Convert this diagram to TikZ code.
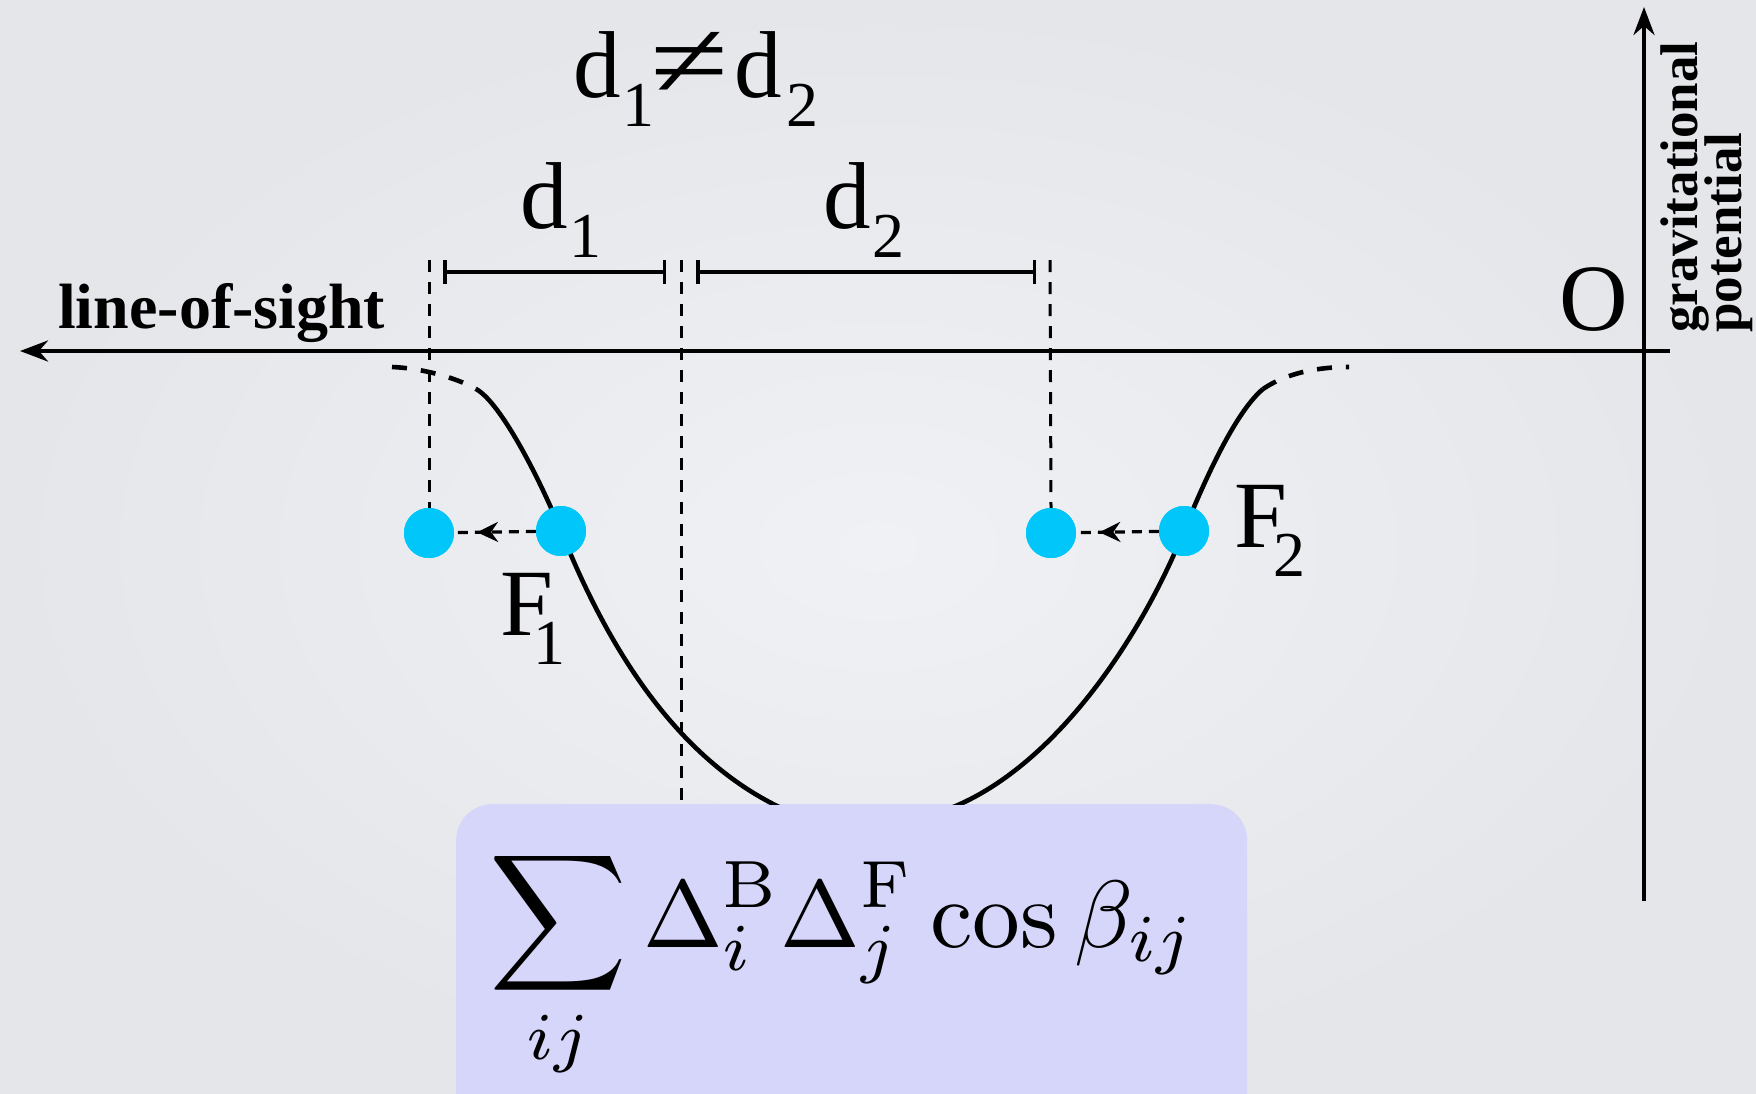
\documentclass[tikz,border=0pt]{standalone}
\usepackage{fontspec}
\newfontfamily\ser{Liberation Serif}
\usetikzlibrary{arrows.meta,decorations.markings}
\definecolor{bg}{RGB}{235,237,241}
\definecolor{bgin}{RGB}{240,241,245}
\definecolor{bgout}{RGB}{228,230,234}
\definecolor{dotc}{RGB}{0,198,250}
\definecolor{boxc}{RGB}{214,213,250}
\newcommand\subs[1]{\raisebox{-29pt}{\fontsize{64}{64}\selectfont #1}}
\begin{document}
\begin{tikzpicture}[x=1pt,y=-1pt,
  axisline/.style={line width=4.2pt,-{Stealth[length=28pt,width=21pt,inset=9pt]}},
  vdash/.style={line width=3pt,dash pattern=on 12pt off 10pt},
  cdash/.style={line width=4.6pt,dash pattern=on 15pt off 14pt},
  curvest/.style={line width=4.6pt},
  dotst/.style={circle,fill=dotc,minimum size=50pt,inner sep=0pt},
  lbl/.style={font=\ser\fontsize{95}{100}\selectfont,inner sep=0pt,anchor=base west},
  barst/.style={line width=3.5pt,{Bar[width=24pt]}-{Bar[width=24pt]}},
  moveArrow/.style={dash pattern=on 10pt off 7pt,line width=3.2pt,
    decoration={markings,mark=at position 0.72 with {\arrow{Stealth[length=21pt,width=20pt,inset=7pt]}}},
    postaction={decorate}}]
\useasboundingbox (0,0) rectangle (1756,1093);
\shade[inner color=bgin,outer color=bgout] (0,0) rectangle (1756,1093);

% axes
\coordinate (hr) at (1670,351);
\coordinate (hl) at (20,351);
\coordinate (vb) at (1644,901);
\coordinate (vt) at (1644,7);
\draw[axisline] (hr) -- (hl);
\draw[axisline] (vb) -- (vt);

% dots
\node[dotst] (a1) at (429,533) {};
\node[dotst] (a2) at (561,531) {};
\node[dotst] (b1) at (1051,533) {};
\node[dotst] (b2) at (1184,531) {};

% formula box
\node[fill=boxc,rounded corners=36pt,minimum width=791pt,minimum height=330pt,anchor=north west,inner sep=0pt] (box) at (456,804) {};

% dashed verticals
\coordinate (t1) at (429,260);
\coordinate (t2) at (681,260);
\coordinate (t3) at (1050,260);
\draw[vdash] (t1) -- (a1.north);
\draw[vdash] (t2) -- (t2 |- box.north);
\draw[vdash] (t3) -- (b1.north);

% distance bars
\coordinate (p1) at (443,272);
\coordinate (p2) at (666,272);
\coordinate (p3) at (696,272);
\coordinate (p4) at (1036,272);
\draw[barst] (p1) -- (p2);
\draw[barst] (p3) -- (p4);

% potential curve
\coordinate (cl) at (476,389);
\coordinate (cr) at (1263,389);
\begin{scope}
\clip (0,0) rectangle (1756,804);
\draw[curvest] (cl) .. controls (500,402) and (538,475) .. (a2.center)
  .. controls (601,631) and (670,760) .. (790,812) -- (940,812)
  .. controls (1050,775) and (1140,640) .. (b2.center)
  .. controls (1210,467) and (1238,410) .. (cr);
\end{scope}
\coordinate (el) at (392,367);
\coordinate (er) at (1349,367);
\draw[cdash] (el) .. controls (420,368) and (455,377) .. (cl);
\draw[cdash] (cr) .. controls (1285,374) and (1315,367) .. (er);

% formula
\node[anchor=base west,inner sep=0pt] (form) at (489,947) {\scalebox{9.55}{$\displaystyle\sum_{ij}\Delta_i^{\mathrm{B}}\Delta_j^{\mathrm{F}}\cos\beta_{ij}$}};

% dots on top
\node[dotst] at (a1) {};
\node[dotst] at (a2) {};
\node[dotst] at (b1) {};
\node[dotst] at (b2) {};
\draw[moveArrow] (a2) -- (a1);
\draw[moveArrow] (b2) -- (b1);

% labels
\node[lbl] (dne) at (573,97) {d\kern2pt\subs{1}\kern-4pt\scalebox{1.5}[1.15]{≠}\kern6pt d\kern4pt\subs{2}};
\node[lbl] (d1) at (520,228) {d\kern2pt\subs{1}};
\node[lbl] (d2) at (823,228) {d\kern2pt\subs{2}};
\node[lbl] (F1) at (500,635) {F\kern-20pt\subs{1}};
\node[lbl] (F2) at (1234,547) {F\kern-14pt\subs{2}};
\node[lbl,anchor=base] (O) at (1594,330) {O};
\node[font=\ser\bfseries\fontsize{64}{70}\selectfont,anchor=base west,inner sep=0pt] (los) at (58,328) {line-of-sight};
\node[font=\ser\bfseries\fontsize{53}{55}\selectfont,rotate=90,anchor=base west,inner sep=0pt] (gv) at (1697,333) {gravitational};
\node[font=\ser\bfseries\fontsize{53}{55}\selectfont,rotate=90,anchor=base west,inner sep=0pt] (pt) at (1741,333) {potential};
\end{tikzpicture}
\end{document}
